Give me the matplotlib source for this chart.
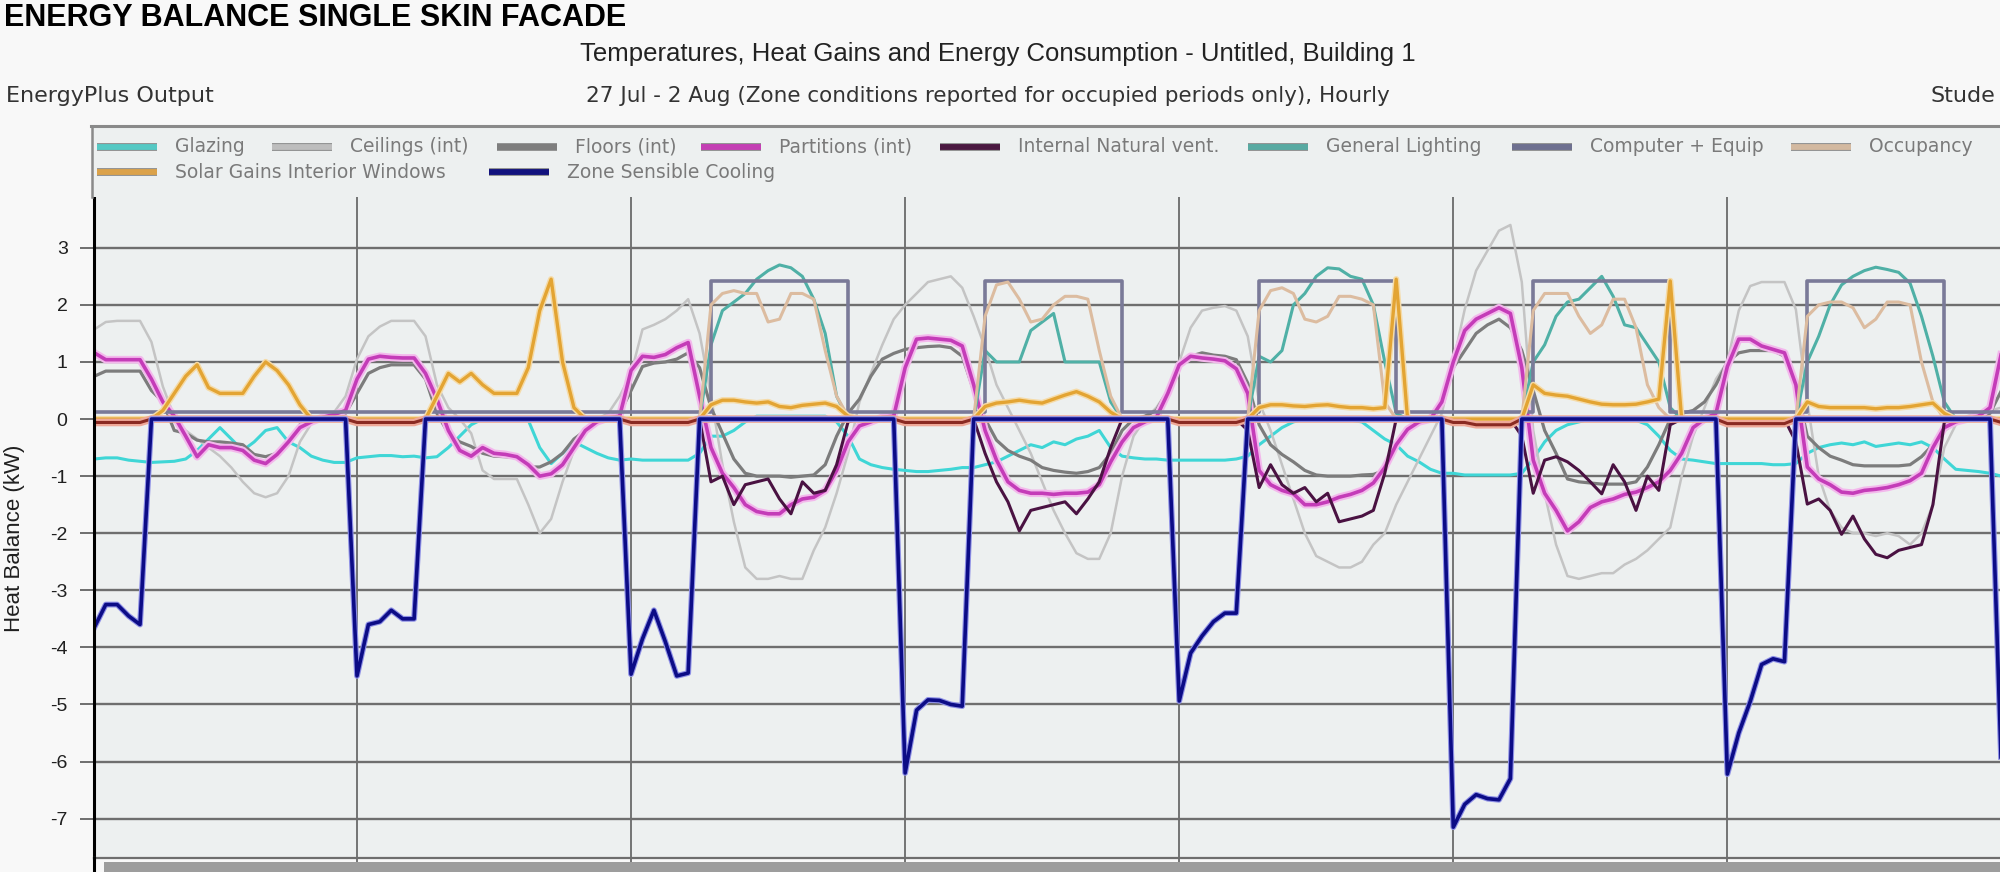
import matplotlib
matplotlib.use('Agg')
import matplotlib.pyplot as plt
import matplotlib.patheffects as pe
from matplotlib.lines import Line2D
from matplotlib.patches import Rectangle
import numpy as np

plt.rcParams['font.family'] = ['Liberation Sans', 'DejaVu Sans']
plt.rcParams['axes.unicode_minus'] = False

# hourly values, 27 Jul - 2 Aug (one row per day, hours 1..24 of each day)
hours = np.arange(1, 169)
day_lines = [24, 48, 72, 96, 120, 144]
y_ticks = [-7, -6, -5, -4, -3, -2, -1, 0, 1, 2, 3]

glazing = [
    -0.7, -0.68, -0.68, -0.72, -0.74, -0.76, -0.75, -0.74, -0.7, -0.55, -0.35, -0.15, -0.35, -0.55, -0.4, -0.2, -0.15, -0.4, -0.5, -0.65, -0.72, -0.76, -0.76, -0.68,
    -0.66, -0.64, -0.64, -0.66, -0.65, -0.68, -0.66, -0.5, -0.3, -0.1, 0.0, 0.02, 0.0, 0.0, -0.02, -0.5, -0.78, -0.6, -0.4, -0.5, -0.6, -0.68, -0.72, -0.7,
    -0.72, -0.72, -0.72, -0.72, -0.72, -0.6, -0.3, -0.3, -0.2, -0.05, 0.05, 0.05, 0.05, 0.05, 0.05, 0.05, 0.05, -0.05, -0.3, -0.7, -0.8, -0.85, -0.88, -0.9,
    -0.92, -0.92, -0.9, -0.88, -0.85, -0.85, -0.8, -0.75, -0.65, -0.55, -0.45, -0.5, -0.4, -0.45, -0.35, -0.3, -0.2, -0.5, -0.65, -0.68, -0.7, -0.7, -0.72, -0.72,
    -0.72, -0.72, -0.72, -0.72, -0.7, -0.65, -0.45, -0.3, -0.15, -0.05, 0.0, 0.02, 0.0, 0.0, -0.02, -0.05, -0.2, -0.35, -0.45, -0.65, -0.75, -0.88, -0.95, -0.95,
    -0.98, -0.98, -0.98, -0.98, -0.98, -0.95, -0.7, -0.4, -0.2, -0.1, -0.05, 0.0, 0.0, 0.0, 0.0, -0.02, -0.1, -0.3, -0.55, -0.7, -0.72, -0.75, -0.78, -0.78,
    -0.78, -0.78, -0.78, -0.8, -0.8, -0.78, -0.6, -0.5, -0.45, -0.42, -0.45, -0.4, -0.48, -0.45, -0.42, -0.45, -0.4, -0.5, -0.7, -0.88, -0.9, -0.92, -0.95, -1.0,
]

ceilings = [
    1.57, 1.7, 1.72, 1.72, 1.72, 1.35, 0.57, 0.04, -0.2, -0.35, -0.5, -0.65, -0.85, -1.1, -1.3, -1.37, -1.3, -1.0, -0.4, -0.08, 0.05, 0.12, 0.4, 1.05,
    1.45, 1.62, 1.72, 1.72, 1.72, 1.45, 0.6, 0.2, 0.0, -0.25, -0.9, -1.05, -1.05, -1.05, -1.5, -2.0, -1.75, -1.1, -0.55, -0.2, 0.0, 0.1, 0.4, 0.8,
    1.57, 1.65, 1.75, 1.9, 2.1, 1.5, 0.4, -0.8, -1.8, -2.6, -2.8, -2.8, -2.75, -2.8, -2.8, -2.3, -1.9, -1.3, -0.6, 0.3, 0.8, 1.3, 1.75, 2.0,
    2.2, 2.4, 2.45, 2.5, 2.3, 1.8, 1.25, 0.6, 0.2, -0.2, -0.6, -1.1, -1.6, -2.0, -2.35, -2.45, -2.45, -2.0, -1.0, -0.3, 0.0, 0.2, 0.5, 1.0,
    1.6, 1.9, 1.95, 1.98, 1.9, 1.45, 0.3, -0.2, -0.8, -1.4, -2.0, -2.4, -2.5, -2.6, -2.6, -2.5, -2.2, -2.0, -1.5, -1.1, -0.7, -0.3, 0.1, 1.0,
    1.92, 2.6, 2.95, 3.3, 3.4, 2.4, -0.2, -1.3, -2.2, -2.75, -2.8, -2.75, -2.7, -2.7, -2.55, -2.45, -2.3, -2.1, -1.9, -1.0, -0.3, 0.2, 0.7, 1.0,
    1.9, 2.33, 2.4, 2.4, 2.4, 1.92, 0.3, -1.0, -1.6, -1.9, -2.0, -2.0, -2.05, -2.0, -2.05, -2.2, -2.0, -1.5, -0.5, -0.1, 0.05, 0.1, 0.15, 0.2,
]

floors = [
    0.75, 0.84, 0.84, 0.84, 0.84, 0.5, 0.3, -0.2, -0.25, -0.37, -0.4, -0.4, -0.42, -0.45, -0.62, -0.66, -0.6, -0.4, -0.1, 0.0, 0.02, 0.05, 0.1, 0.45,
    0.8, 0.9, 0.95, 0.95, 0.95, 0.7, 0.1, -0.25, -0.4, -0.48, -0.6, -0.65, -0.66, -0.68, -0.84, -0.84, -0.75, -0.6, -0.35, -0.2, -0.05, 0.05, 0.1, 0.5,
    0.92, 0.98, 1.0, 1.05, 1.16, 0.9, 0.2, -0.25, -0.7, -0.95, -1.0, -1.0, -1.0, -1.02, -1.0, -0.98, -0.8, -0.3, 0.1, 0.35, 0.75, 1.05, 1.15, 1.22,
    1.25, 1.27, 1.28, 1.25, 1.1, 0.5, 0.0, -0.37, -0.55, -0.65, -0.72, -0.85, -0.9, -0.93, -0.95, -0.92, -0.85, -0.6, -0.2, 0.0, 0.05, 0.15, 0.5, 0.95,
    1.1, 1.16, 1.12, 1.1, 1.04, 0.63, -0.1, -0.45, -0.62, -0.75, -0.9, -0.98, -1.0, -1.0, -1.0, -0.98, -0.97, -0.9, -0.43, -0.2, -0.05, 0.0, 0.3, 0.9,
    1.2, 1.5, 1.65, 1.75, 1.6, 1.2, 0.5, -0.2, -0.6, -1.05, -1.1, -1.12, -1.14, -1.14, -1.14, -1.1, -0.84, -0.45, 0.0, 0.1, 0.15, 0.3, 0.6, 1.0,
    1.16, 1.2, 1.2, 1.2, 1.1, 0.6, -0.3, -0.5, -0.65, -0.72, -0.8, -0.82, -0.82, -0.82, -0.82, -0.8, -0.66, -0.45, -0.2, -0.05, 0.0, 0.05, 0.1, 0.5,
]

partitions = [
    1.16, 1.04, 1.04, 1.04, 1.04, 0.7, 0.3, 0.05, -0.3, -0.66, -0.45, -0.5, -0.5, -0.55, -0.72, -0.78, -0.62, -0.4, -0.15, -0.05, 0.03, 0.08, 0.15, 0.7,
    1.05, 1.1, 1.08, 1.07, 1.07, 0.8, 0.35, -0.2, -0.55, -0.65, -0.5, -0.6, -0.62, -0.66, -0.8, -1.0, -0.96, -0.8, -0.5, -0.2, -0.05, 0.02, 0.05, 0.85,
    1.1, 1.08, 1.13, 1.25, 1.34, 0.4, -0.5, -0.95, -1.2, -1.5, -1.62, -1.66, -1.66, -1.5, -1.4, -1.37, -1.25, -0.9, -0.4, -0.12, -0.05, 0.03, 0.05, 0.9,
    1.4, 1.42, 1.4, 1.38, 1.28, 0.6, -0.2, -0.72, -1.1, -1.25, -1.3, -1.3, -1.32, -1.3, -1.3, -1.28, -1.15, -0.75, -0.4, -0.15, -0.05, 0.03, 0.45, 0.95,
    1.1, 1.07, 1.05, 1.02, 0.88, 0.45, -0.9, -1.15, -1.25, -1.31, -1.5, -1.5, -1.45, -1.37, -1.32, -1.25, -1.12, -0.85, -0.45, -0.18, -0.05, 0.0, 0.3, 1.0,
    1.55, 1.75, 1.85, 1.95, 1.85, 0.9, -0.72, -1.3, -1.6, -1.96, -1.8, -1.55, -1.45, -1.4, -1.32, -1.28, -1.2, -1.1, -0.9, -0.6, -0.15, 0.0, 0.1, 0.92,
    1.4, 1.4, 1.28, 1.22, 1.16, 0.6, -0.84, -1.05, -1.15, -1.28, -1.3, -1.25, -1.23, -1.2, -1.15, -1.08, -0.95, -0.5, -0.15, -0.05, 0.0, 0.05, 0.2, 1.16,
]

nat_vent = [
    0, 0, 0, 0, 0, 0, 0, 0, 0, 0, 0, 0, 0, 0, 0, 0, 0, 0, 0, 0, 0, 0, 0, 0,
    0, 0, 0, 0, 0, 0, 0, 0, 0, 0, 0, 0, 0, 0, 0, 0, 0, 0, 0, 0, 0, 0, 0, 0,
    0, 0, 0, 0, 0, 0, -1.1, -1.0, -1.5, -1.15, -1.1, -1.05, -1.4, -1.66, -1.1, -1.3, -1.25, -0.8, -0.05, 0, 0, 0, 0, 0,
    0, 0, 0, 0, 0, 0, -0.6, -1.1, -1.45, -1.96, -1.6, -1.55, -1.5, -1.45, -1.66, -1.4, -1.1, -0.5, 0, 0, 0, 0, 0, 0,
    0, 0, 0, 0, 0, -0.2, -1.2, -0.8, -1.15, -1.3, -1.2, -1.45, -1.3, -1.8, -1.75, -1.7, -1.6, -0.95, 0, 0, 0, 0, 0, 0,
    0, 0, 0, 0, 0, -0.3, -1.3, -0.72, -0.66, -0.75, -0.9, -1.1, -1.31, -0.8, -1.1, -1.6, -1.0, -1.25, -0.1, 0, 0, 0, 0, 0,
    0, 0, 0, 0, 0, -0.4, -1.49, -1.4, -1.6, -2.02, -1.7, -2.1, -2.37, -2.43, -2.3, -2.25, -2.2, -1.5, -0.05, 0, 0, 0, 0, 0,
]

lighting = [
    0, 0, 0, 0, 0, 0, 0, 0, 0, 0, 0, 0, 0, 0, 0, 0, 0, 0, 0, 0, 0, 0, 0, 0,
    0, 0, 0, 0, 0, 0, 0, 0, 0, 0, 0, 0, 0, 0, 0, 0, 0, 0, 0, 0, 0, 0, 0, 0,
    0, 0, 0, 0, 0, 0, 1.3, 1.9, 2.05, 2.2, 2.45, 2.6, 2.7, 2.65, 2.5, 2.1, 1.5, 0.4, 0, 0, 0, 0, 0, 0,
    0, 0, 0, 0, 0, 0, 1.2, 1.0, 1.0, 1.0, 1.55, 1.7, 1.85, 1.0, 1.0, 1.0, 1.0, 0.3, 0, 0, 0, 0, 0, 0,
    0, 0, 0, 0, 0, 0, 1.1, 1.0, 1.2, 2.0, 2.2, 2.5, 2.65, 2.63, 2.5, 2.45, 2.0, 1.0, 0.1, 0, 0, 0, 0, 0,
    0, 0, 0, 0, 0, 0, 1.0, 1.3, 1.8, 2.05, 2.1, 2.3, 2.5, 2.15, 1.65, 1.6, 1.3, 1.0, 0.2, 0, 0, 0, 0, 0,
    0, 0, 0, 0, 0, 0, 1.0, 1.45, 2.0, 2.35, 2.5, 2.6, 2.66, 2.62, 2.57, 2.38, 1.8, 1.1, 0.3, 0, 0, 0, 0, 0,
]

computer = [
    0.13, 0.13, 0.13, 0.13, 0.13, 0.13, 0.13, 0.13, 0.13, 0.13, 0.13, 0.13, 0.13, 0.13, 0.13, 0.13, 0.13, 0.13, 0.13, 0.13, 0.13, 0.13, 0.13, 0.13,
    0.13, 0.13, 0.13, 0.13, 0.13, 0.13, 0.13, 0.13, 0.13, 0.13, 0.13, 0.13, 0.13, 0.13, 0.13, 0.13, 0.13, 0.13, 0.13, 0.13, 0.13, 0.13, 0.13, 0.13,
    0.13, 0.13, 0.13, 0.13, 0.13, 0.13, 2.42, 2.42, 2.42, 2.42, 2.42, 2.42, 2.42, 2.42, 2.42, 2.42, 2.42, 2.42, 0.13, 0.13, 0.13, 0.13, 0.13, 0.13,
    0.13, 0.13, 0.13, 0.13, 0.13, 0.13, 2.42, 2.42, 2.42, 2.42, 2.42, 2.42, 2.42, 2.42, 2.42, 2.42, 2.42, 2.42, 0.13, 0.13, 0.13, 0.13, 0.13, 0.13,
    0.13, 0.13, 0.13, 0.13, 0.13, 0.13, 2.42, 2.42, 2.42, 2.42, 2.42, 2.42, 2.42, 2.42, 2.42, 2.42, 2.42, 2.42, 0.13, 0.13, 0.13, 0.13, 0.13, 0.13,
    0.13, 0.13, 0.13, 0.13, 0.13, 0.13, 2.42, 2.42, 2.42, 2.42, 2.42, 2.42, 2.42, 2.42, 2.42, 2.42, 2.42, 2.42, 0.13, 0.13, 0.13, 0.13, 0.13, 0.13,
    0.13, 0.13, 0.13, 0.13, 0.13, 0.13, 2.42, 2.42, 2.42, 2.42, 2.42, 2.42, 2.42, 2.42, 2.42, 2.42, 2.42, 2.42, 0.13, 0.13, 0.13, 0.13, 0.13, 0.13,
]

occupancy = [
    0, 0, 0, 0, 0, 0, 0, 0, 0, 0, 0, 0, 0, 0, 0, 0, 0, 0, 0, 0, 0, 0, 0, 0,
    0, 0, 0, 0, 0, 0, 0, 0, 0, 0, 0, 0, 0, 0, 0, 0, 0, 0, 0, 0, 0, 0, 0, 0,
    0, 0, 0, 0, 0, 0, 2.0, 2.2, 2.25, 2.2, 2.2, 1.7, 1.75, 2.2, 2.2, 2.1, 1.2, 0.4, 0.05, 0, 0, 0, 0, 0,
    0, 0, 0, 0, 0, 0, 1.8, 2.35, 2.4, 2.1, 1.7, 1.75, 2.0, 2.15, 2.15, 2.1, 1.2, 0.4, 0, 0, 0, 0, 0, 0,
    0, 0, 0, 0, 0, 0, 1.9, 2.25, 2.3, 2.2, 1.75, 1.7, 1.8, 2.15, 2.15, 2.1, 2.0, 0.3, 0, 0, 0, 0, 0, 0,
    0, 0, 0, 0, 0, 0, 1.9, 2.2, 2.2, 2.2, 1.8, 1.5, 1.65, 2.1, 2.1, 1.6, 0.6, 0.2, 0, 0, 0, 0, 0, 0,
    0, 0, 0, 0, 0, 0, 1.8, 2.0, 2.05, 2.05, 1.95, 1.6, 1.75, 2.05, 2.05, 2.0, 1.0, 0.3, 0, 0, 0, 0, 0, 0,
]

solar = [
    0, 0, 0, 0, 0, 0, 0.15, 0.45, 0.75, 0.95, 0.55, 0.45, 0.45, 0.45, 0.75, 1.0, 0.85, 0.6, 0.25, 0, 0, 0, 0, 0,
    0, 0, 0, 0, 0, 0, 0.4, 0.8, 0.65, 0.8, 0.6, 0.45, 0.45, 0.45, 0.9, 1.9, 2.45, 1.0, 0.2, 0, 0, 0, 0, 0,
    0, 0, 0, 0, 0, 0, 0.25, 0.33, 0.33, 0.3, 0.28, 0.3, 0.22, 0.2, 0.24, 0.26, 0.28, 0.22, 0.05, 0, 0, 0, 0, 0,
    0, 0, 0, 0, 0, 0, 0.22, 0.28, 0.3, 0.33, 0.3, 0.28, 0.35, 0.42, 0.48, 0.4, 0.3, 0.12, 0, 0, 0, 0, 0, 0,
    0, 0, 0, 0, 0, 0, 0.2, 0.25, 0.25, 0.23, 0.22, 0.24, 0.25, 0.22, 0.2, 0.2, 0.18, 0.2, 2.45, 0, 0, 0, 0, 0,
    0, 0, 0, 0, 0, 0, 0.6, 0.45, 0.42, 0.4, 0.35, 0.3, 0.26, 0.25, 0.25, 0.26, 0.3, 0.35, 2.42, 0, 0, 0, 0, 0,
    0, 0, 0, 0, 0, 0, 0.3, 0.22, 0.2, 0.2, 0.2, 0.2, 0.18, 0.2, 0.2, 0.22, 0.25, 0.28, 0.1, 0, 0, 0, 0, 0,
]

cooling = [
    -3.65, -3.25, -3.25, -3.45, -3.6, 0, 0, 0, 0, 0, 0, 0, 0, 0, 0, 0, 0, 0, 0, 0, 0, 0, 0, -4.5,
    -3.6, -3.55, -3.35, -3.5, -3.5, 0, 0, 0, 0, 0, 0, 0, 0, 0, 0, 0, 0, 0, 0, 0, 0, 0, 0, -4.47,
    -3.85, -3.35, -3.9, -4.5, -4.45, 0, 0, 0, 0, 0, 0, 0, 0, 0, 0, 0, 0, 0, 0, 0, 0, 0, 0, -6.2,
    -5.1, -4.92, -4.93, -5.0, -5.03, 0, 0, 0, 0, 0, 0, 0, 0, 0, 0, 0, 0, 0, 0, 0, 0, 0, 0, -4.94,
    -4.1, -3.8, -3.55, -3.4, -3.4, 0, 0, 0, 0, 0, 0, 0, 0, 0, 0, 0, 0, 0, 0, 0, 0, 0, 0, -7.15,
    -6.75, -6.58, -6.65, -6.67, -6.3, 0, 0, 0, 0, 0, 0, 0, 0, 0, 0, 0, 0, 0, 0, 0, 0, 0, 0, -6.22,
    -5.5, -4.95, -4.3, -4.2, -4.25, 0, 0, 0, 0, 0, 0, 0, 0, 0, 0, 0, 0, 0, 0, 0, 0, 0, 0, -6.15,
]

# series whose legend entry is cut off at the right edge of the picture
unlisted = [
    -0.06, -0.06, -0.06, -0.06, -0.06, 0, 0, 0, 0, 0, 0, 0, 0, 0, 0, 0, 0, 0, 0, 0, 0, 0, 0, -0.06,
    -0.06, -0.06, -0.06, -0.06, -0.06, 0, 0, 0, 0, 0, 0, 0, 0, 0, 0, 0, 0, 0, 0, 0, 0, 0, 0, -0.06,
    -0.06, -0.06, -0.06, -0.06, -0.06, 0, 0, 0, 0, 0, 0, 0, 0, 0, 0, 0, 0, 0, 0, 0, 0, 0, 0, -0.06,
    -0.06, -0.06, -0.06, -0.06, -0.06, 0, 0, 0, 0, 0, 0, 0, 0, 0, 0, 0, 0, 0, 0, 0, 0, 0, 0, -0.06,
    -0.06, -0.06, -0.06, -0.06, -0.06, 0, 0, 0, 0, 0, 0, 0, 0, 0, 0, 0, 0, 0, 0, 0, 0, 0, 0, -0.06,
    -0.06, -0.1, -0.1, -0.1, -0.1, 0, 0, 0, 0, 0, 0, 0, 0, 0, 0, 0, 0, 0, 0, 0, 0, 0, 0, -0.08,
    -0.08, -0.08, -0.08, -0.08, -0.08, 0, 0, 0, 0, 0, 0, 0, 0, 0, 0, 0, 0, 0, 0, 0, 0, 0, 0, -0.06,
]

legend_names = ['Glazing', 'Ceilings (int)', 'Floors (int)', 'Partitions (int)', 'Internal Natural vent.',
                'General Lighting', 'Computer + Equip', 'Occupancy', 'Solar Gains Interior Windows',
                'Zone Sensible Cooling']
legend_colors = ['#55c9c4', '#bdbdbd', '#7e7e7e', '#c43fb4', '#4a1840', '#58aaa2', '#6e7090', '#d3b9a0',
                 '#dba24a', '#12127e']

W, H = 2000, 872


def fx(px):
    return px / W


def fy(py):
    return 1 - py / H


fig = plt.figure(figsize=(20, 8.72), dpi=100)
fig.patch.set_facecolor('#f8f8f8')

# plot area (pixel geometry)
ax = fig.add_axes([fx(94), fy(858), (2002 - 94) / W, (858 - 197) / H])
ax.set_facecolor('#edf0f0')
ax.set_xlim(0.97, 168.05)
ax.set_ylim(-7.69, 3.89)
ax.set_axisbelow(True)

ax.set_yticks(y_ticks)
ax.set_xticks(day_lines)
ax.yaxis.grid(True, color='#6e6e6e', lw=1.7)
ax.xaxis.grid(True, color='#6a6a6a', lw=1.3)
ax.tick_params(axis='y', length=10, width=1.4, color='#6e6e6e', pad=9, labelsize=14, labelcolor='#202020')
ax.tick_params(axis='x', length=5, width=1.3, color='#6a6a6a', labelbottom=False)
for side in ['top', 'right']:
    ax.spines[side].set_visible(False)
ax.spines['left'].set_color('black')
ax.spines['left'].set_linewidth(2.2)
ax.spines['bottom'].set_color('#6e6e6e')
ax.spines['bottom'].set_linewidth(1.6)

ax.plot(hours, glazing, color='#3fd6d6', lw=2.2)
ax.plot(hours, ceilings, color='#c4c4c4', lw=1.8)
ax.plot(hours, floors, color='#7c7c7c', lw=2.3)
ax.plot(hours, partitions, color='#c43cb8', lw=2.6,
        path_effects=[pe.Stroke(linewidth=5.5, foreground='#f3b8ec'), pe.Normal()])
ax.plot(hours, nat_vent, color='#4a1242', lw=2.2)
ax.plot(hours, lighting, color='#4fb0a6', lw=2.2)
ax.plot(hours, computer, color='#7a7a98', lw=2.6, drawstyle='steps-post')
ax.plot(hours, occupancy, color='#dcbca0', lw=2.2)
ax.plot(hours, solar, color='#e3a433', lw=2.4,
        path_effects=[pe.Stroke(linewidth=4.5, foreground='#f5dba8'), pe.Normal()])
ax.plot(hours, unlisted, color='#8a2a22', lw=2.2,
        path_effects=[pe.Stroke(linewidth=5.5, foreground='#efa898'), pe.Normal()])
ax.plot(hours, cooling, color='#0c0c86', lw=2.6,
        path_effects=[pe.Stroke(linewidth=4.2, foreground='#8e90e6'), pe.Normal()])

# legend box sits on top of the plot area
fig.add_artist(Rectangle((fx(92), fy(197)), 1, (197 - 126) / H, transform=fig.transFigure,
                         facecolor='#edf0f0', edgecolor='none'))
fig.add_artist(Line2D([fx(91), 1], [fy(126), fy(126)], transform=fig.transFigure, color='#8a8a8a', lw=2.2))
fig.add_artist(Line2D([fx(92), fx(92)], [fy(126), fy(197)], transform=fig.transFigure, color='#8a8a8a', lw=1.8))

legend_x = [97, 272, 497, 701, 940, 1248, 1512, 1791, 97, 489]
legend_y = [147, 147, 147, 147, 147, 147, 147, 147, 172, 172]
for name, col, x0, y0 in zip(legend_names, legend_colors, legend_x, legend_y):
    fig.add_artist(Line2D([fx(x0), fx(x0 + 60)], [fy(y0), fy(y0)], transform=fig.transFigure,
                          color=col, lw=4.2, solid_capstyle='butt',
                          path_effects=[pe.Stroke(linewidth=5.6, foreground='#8a8a8a'), pe.Normal()]))
    fig.text(fx(x0 + 78), fy(y0), name, fontsize=13.5, color='#7a7a7a', va='center', ha='left',
             family=['DejaVu Sans'])

# left axis runs into the bottom band
fig.add_artist(Line2D([fx(94), fx(94)], [fy(858), 0], transform=fig.transFigure, color='black', lw=2.2))
fig.add_artist(Rectangle((fx(104), 0), 1, 10 / H, transform=fig.transFigure,
                         facecolor='#9d9d9d', edgecolor='none'))

# titles
fig.text(fx(4), fy(26), 'ENERGY BALANCE SINGLE SKIN FACADE', fontsize=22, fontweight='bold',
         color='black', va='baseline', ha='left')
fig.text(fx(998), fy(61), 'Temperatures, Heat Gains and Energy Consumption - Untitled, Building 1',
         fontsize=18.5, color='#222222', va='baseline', ha='center')
fig.text(fx(6), fy(102), 'EnergyPlus Output', fontsize=16, color='#333333', va='baseline', ha='left',
         family=['DejaVu Sans'])
fig.text(fx(988), fy(102), '27 Jul - 2 Aug (Zone conditions reported for occupied periods only), Hourly',
         fontsize=15.5, color='#333333', va='baseline', ha='center', family=['DejaVu Sans'])
fig.text(fx(1930), fy(102), 'Stude', fontsize=16, color='#333333', va='baseline', ha='left',
         family=['DejaVu Sans'])
fig.text(fx(15), fy(538), 'Heat Balance (kW)', fontsize=16, color='#202020', rotation=90,
         va='center', ha='center')

fig.savefig('out.png', dpi=100, facecolor=fig.get_facecolor())
